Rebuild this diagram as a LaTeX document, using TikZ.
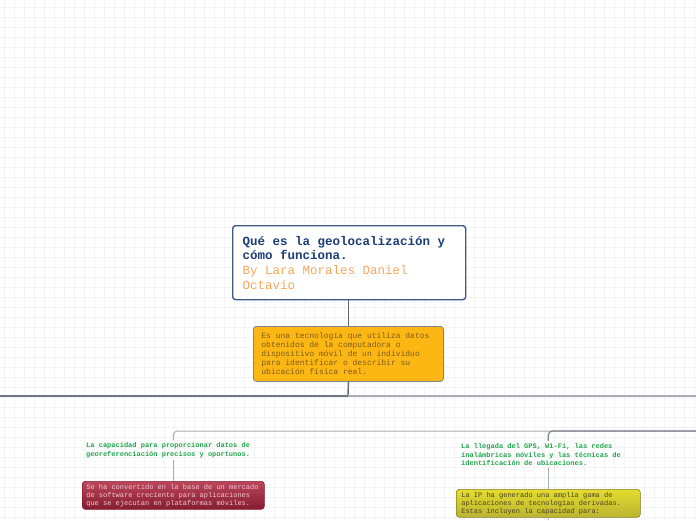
\documentclass[tikz,border=0pt]{standalone}
\usepackage{fontspec}
\newfontfamily\mono[WordSpace={1,0,0}]{Liberation Mono}
\newcommand\mfont[2]{\mono\fontsize{#1}{#2}\selectfont}
\usetikzlibrary{positioning}
\definecolor{Ink}{HTML}{1C3C78}
\definecolor{Author}{HTML}{F4A75A}
\definecolor{Wire}{HTML}{5F6770}
\definecolor{WireLt}{HTML}{A8AEB3}
\definecolor{Amber}{HTML}{FDB714}
\definecolor{AmberTxt}{HTML}{7E5E14}
\definecolor{Leaf}{HTML}{22A64D}
\definecolor{Crimson}{HTML}{B0263F}
\definecolor{CrimsonTxt}{HTML}{F2C9D2}
\definecolor{Lemon}{HTML}{DDD33A}
\definecolor{LemonTxt}{HTML}{4A4520}
\definecolor{Paper}{HTML}{F3F3F3}

\begin{document}
\begin{tikzpicture}[x=1pt,y=-1pt,
        box/.style={rectangle,rounded corners=3pt,anchor=north west,align=flush left,inner ysep=0pt},
        lbl/.style={anchor=north west,align=flush left,inner xsep=0pt,inner ysep=2pt,text=Leaf,
          font=\bfseries\mfont{7}{8.8}},
        w/.style={draw=Wire,line width=1.4pt},
        wl/.style={draw=WireLt,line width=1pt}]
        \useasboundingbox[fill=white] (0,0) rectangle (696,520);
        % background grid
        \foreach \gx in {4,14,...,694} \draw[Paper,line width=0.6pt] (\gx,0) -- (\gx,520);
        \foreach \gy in {7,17,...,517} \draw[Paper,line width=0.6pt] (0,\gy) -- (696,\gy);
        \node[box,draw=Ink!85,line width=1.4pt,fill=white,text width=213pt,inner xsep=10pt,minimum height=74pt,
          font=\mfont{12.5}{14.6}] (root) at (232,225)
          {\textbf{\textcolor{Ink}{Qué es la geolocalización y\\cómo funciona.}}\\
           \textcolor{Author}{By Lara Morales Daniel\\Octavio}};
        \node[box,draw=Wire!80,line width=0.8pt,fill=Amber,text=AmberTxt,text width=174pt,inner xsep=8pt,minimum height=55pt,
          font=\mfont{8}{9}] (def) at (253,326)
          {Es una tecnología que utiliza datos\\obtenidos de la computadora o\\dispositivo móvil de un individuo\\para identificar o describir su\\ubicación física real.};
        \coordinate (hubL) at (0,396);
        \coordinate (hubR) at (696,396);
        \coordinate (hub) at (348,396);
        \draw[w] (root.south -| def.north) -- (def.north);
        \draw[w] (def.south) -- (hub);
        \draw[draw=Wire!90,line width=2pt] (hubL) -- (hub);
        \draw[draw=WireLt,line width=2pt] (hub) -- (hubR);
        % left branch
        \node[lbl] (capL) at (86,440) {La capacidad para proporcionar datos de\\georeferenciación precisos y oportunos.};
        \node[box,draw=Crimson!80!black,line width=0.6pt,top color=Crimson!85!white,bottom color=Crimson!75!black,
          text=CrimsonTxt,text width=174pt,inner xsep=4pt,minimum height=28pt,
          font=\mfont{7}{8}] (mkt) at (82,481)
          {Se ha convertido en la base de un mercado\\de software creciente para aplicaciones\\que se ejecutan en plataformas móviles.};
        % right branch
        \node[lbl] (capR) at (461,441) {La llegada del GPS, Wi-Fi, las redes\\inalámbricas móviles y las técnicas de\\identificación de ubicaciones.};
        \node[box,draw=Lemon!60!black,line width=0.6pt,top color=Lemon!80!yellow,bottom color=Lemon!85!black,
          text=LemonTxt,text width=174pt,inner xsep=5pt,minimum height=28pt,
          font=\mfont{7}{8}] (ip) at (456,489)
          {La IP ha generado una amplia gama de\\aplicaciones de tecnologías derivadas.\\Estas incluyen la capacidad para:};
        \coordinate (brE) at (696,431);
        \coordinate (ipEnd) at (548,520);
        \draw[wl,rounded corners=4pt] (brE) -| (mkt.north |- capL.north);
        \draw[wl] (mkt.north |- capL.south) -- (mkt.north);
        \draw[draw=Wire!80,line width=1.2pt,rounded corners=4pt] (brE) -| (ip.north |- capR.north);
        \draw[wl] (ip.north |- capR.south) -- (ip.north);
        \draw[wl] (ip.south) -- (ipEnd);
      \end{tikzpicture}
\end{document}
